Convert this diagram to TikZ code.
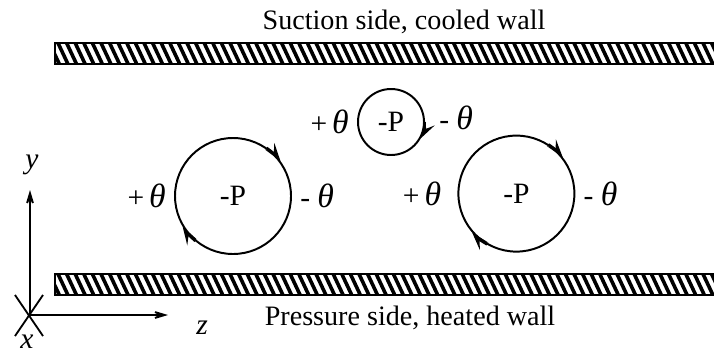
\documentclass[tikz,border=0pt]{standalone}
\usepackage{fontspec}
\setmainfont{Liberation Serif}
\usetikzlibrary{arrows.meta,positioning}

\tikzset{
    vortex/.style={draw, circle, line width=1.4pt, inner sep=0pt,
        font=\fontsize{21}{24}\selectfont},
    small vortex/.style={vortex, minimum size=1.65cm},
    big vortex/.style={vortex, minimum size=2.9cm},
    theta/.style={inner sep=0pt, font=\fontsize{21}{24}\selectfont},
    spin/.style={line width=1.4pt,
        -{Stealth[length=13pt, width=8pt, inset=5pt]}},
    axis/.style={line width=1.3pt,
        -{Stealth[length=20pt, width=12pt, inset=14pt]}},
    wall/.style={line width=1.6pt},
    walltext/.style={font=\fontsize{20}{24}\selectfont},
    axislabel/.style={inner sep=0pt, font=\fontsize{21}{24}\selectfont\itshape},
}

\newcommand{\thetasym}{{\fontsize{24}{24}\selectfont\itshape θ}}

\begin{document}
\begin{tikzpicture}
    \useasboundingbox (0,0) rectangle (17.85,8.85);

    % walls
    \begin{scope}
        \clip (1.375,7.25) rectangle (17.85,7.775);
        \foreach \i in {0,...,80}
            \draw [line width=0.09cm] (1.2+0.215*\i,7.85) -- ++(0.33,-0.7);
    \end{scope}
    \draw [wall] (17.9,7.775) -- (1.375,7.775) -- (1.375,7.25) -- (17.9,7.25);

    \begin{scope}
        \clip (1.375,1.475) rectangle (17.85,2.0);
        \foreach \i in {0,...,80}
            \draw [line width=0.09cm] (1.2+0.215*\i,2.075) -- ++(0.33,-0.7);
    \end{scope}
    \draw [wall] (17.9,2.0) -- (1.375,2.0) -- (1.375,1.475) -- (17.9,1.475);

    \node [walltext] (suction) at (10.1,8.3) {Suction side, cooled wall};
    \node [walltext] (pressure) at (10.25,0.9) {Pressure side, heated wall};

    % vortices
    \node [big vortex] (v1) at (5.825,3.95) {-P};
    \node [small vortex] (v2) at (9.775,5.8) {-P};
    \node [big vortex] (v3) at (12.91,4.01) {-P};

    \node [theta, left=0.2cm of v1] (v1p) {+\,\thetasym};
    \node [theta, right=0.2cm of v1] (v1m) {-\ \thetasym};
    \node [theta, left=0.2cm of v2] (v2p) {+\,\thetasym};
    \node [theta, right=0.35cm of v2, yshift=3pt] (v2m) {-\ \thetasym};
    \node [theta, left=0.4cm of v3] (v3p) {+\,\thetasym};
    \node [theta, right=0.2cm of v3] (v3m) {-\ \thetasym};

    \draw [spin] (v1.55) arc [start angle=55, end angle=36, radius=1.45cm];
    \draw [spin] (v1.230) arc [start angle=230, end angle=211, radius=1.45cm];
    \draw [spin] (v2.0) arc [start angle=0, end angle=-30, radius=0.825cm];
    \draw [spin] (v3.57) arc [start angle=57, end angle=38, radius=1.45cm];
    \draw [spin] (v3.240) arc [start angle=240, end angle=221, radius=1.45cm];

    % axes
    \coordinate (o) at (0.75,0.975);
    \draw [axis] (o) -- (0.75,4.1) coordinate (ytip);
    \draw [axis] (o) -- (4.2,0.975) coordinate (ztip);
    \draw [line width=1.3pt]
        (0.375,1.475) -- (1.075,0.45)
        (1.075,1.475) -- (0.375,0.45)
        ;

    \node [axislabel] (ylab) at (0.8,4.725) {y};
    \node [axislabel] (xlab) at (0.675,0.3) {x};
    \node [axislabel] (zlab) at (5.05,0.65) {z};
\end{tikzpicture}
\end{document}
